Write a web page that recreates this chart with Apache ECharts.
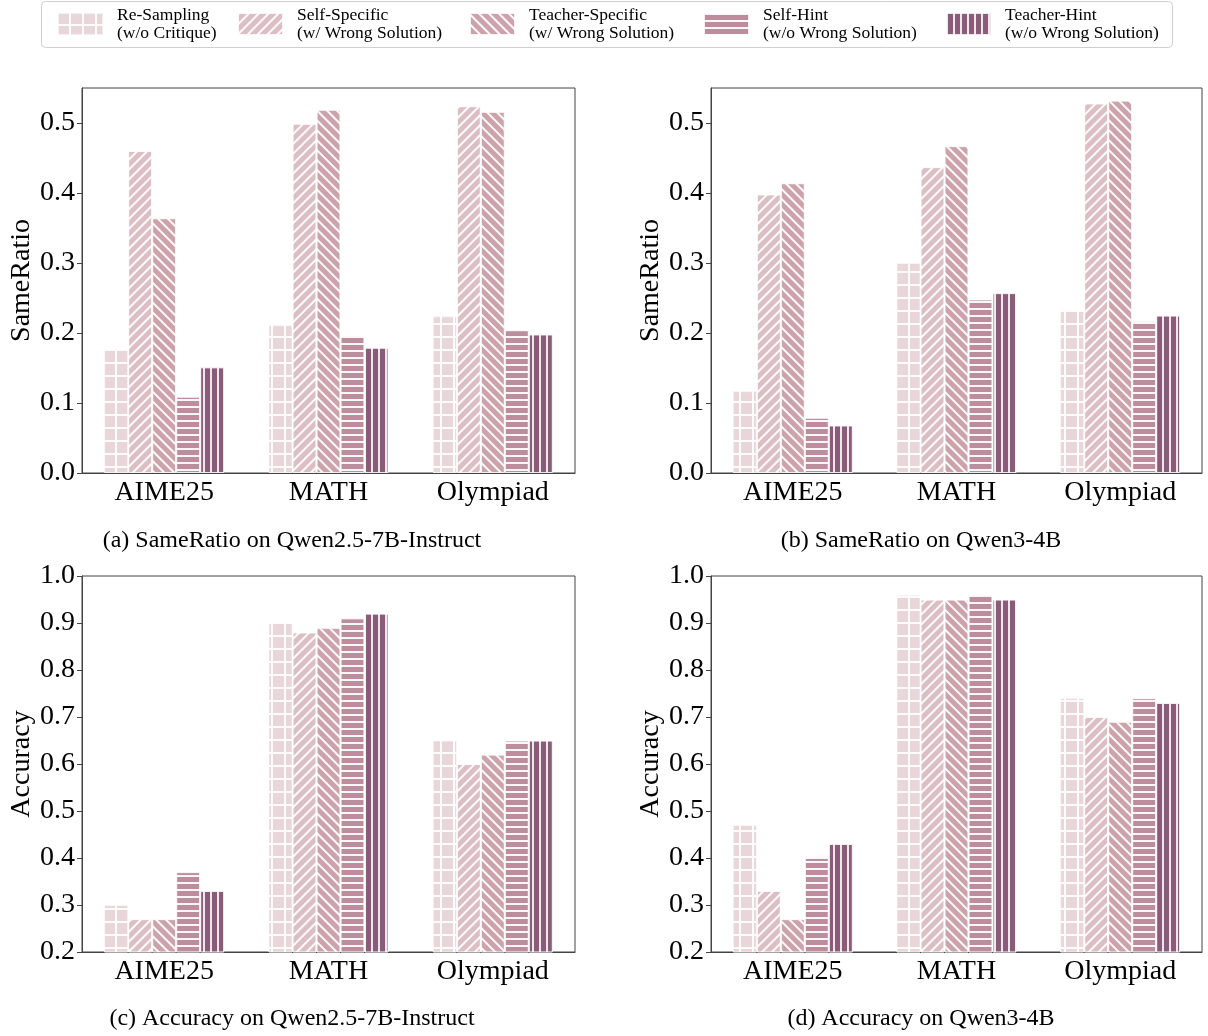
<!DOCTYPE html>
<html>
<head>
<meta charset="utf-8">
<script src="https://cdn.jsdelivr.net/npm/echarts@6/dist/echarts.min.js"></script>
<style>
html,body{margin:0;padding:0;background:#fff;}
#chart{width:1208px;height:1036px;}
</style>
</head>
<body>
<div id="chart"></div>
<script>
// ---------- data ----------
const categories = ['AIME25', 'MATH', 'Olympiad'];
const methodNames = [
  'Re-Sampling\n(w/o Critique)',
  'Self-Specific\n(w/ Wrong Solution)',
  'Teacher-Specific\n(w/ Wrong Solution)',
  'Self-Hint\n(w/o Wrong Solution)',
  'Teacher-Hint\n(w/o Wrong Solution)'
];
// order: Re-Sampling, Self-Specific, Teacher-Specific, Self-Hint, Teacher-Hint
const sameRatioQwen25 = [
  [0.177, 0.211, 0.224],
  [0.460, 0.499, 0.524],
  [0.364, 0.519, 0.516],
  [0.109, 0.196, 0.204],
  [0.151, 0.179, 0.198]
];
const sameRatioQwen3 = [
  [0.117, 0.300, 0.233],
  [0.398, 0.437, 0.528],
  [0.414, 0.467, 0.532],
  [0.079, 0.248, 0.217],
  [0.068, 0.257, 0.225]
];
const accuracyQwen25 = [
  [0.30, 0.90, 0.65],
  [0.27, 0.88, 0.60],
  [0.27, 0.89, 0.62],
  [0.37, 0.91, 0.65],
  [0.33, 0.92, 0.65]
];
const accuracyQwen3 = [
  [0.47, 0.96, 0.74],
  [0.33, 0.95, 0.70],
  [0.27, 0.95, 0.69],
  [0.40, 0.96, 0.74],
  [0.43, 0.95, 0.73]
];
const sameRatioTicks = [0.0, 0.1, 0.2, 0.3, 0.4, 0.5];
const accuracyTicks = [0.2, 0.3, 0.4, 0.5, 0.6, 0.7, 0.8, 0.9, 1.0];
const captions = [
  '(a) SameRatio on Qwen2.5-7B-Instruct',
  '(b) SameRatio on Qwen3-4B',
  '(c) Accuracy on Qwen2.5-7B-Instruct',
  '(d) Accuracy on Qwen3-4B'
];

// ---------- styles ----------
const FONT = 'Liberation Serif';
const colors = ['#e9d6db', '#dcbfc5', '#cca3ab', '#bc8e9d', '#8b5b7a'];
const decals = [
  { symbol: 'rect', symbolSize: 1, dashArrayX: [10.5, 1.5], dashArrayY: [10.5, 1.5], color: colors[0], backgroundColor: 'rgba(255,255,255,0.9)' },
  { symbol: 'rect', symbolSize: 1, dashArrayX: [1, 0], dashArrayY: [1.1, 4.2], rotation: -Math.PI / 4, color: 'rgba(255,255,255,0.92)' },
  { symbol: 'rect', symbolSize: 1, dashArrayX: [1, 0], dashArrayY: [1.1, 4.2], rotation: Math.PI / 4, color: 'rgba(255,255,255,0.92)' },
  { symbol: 'rect', symbolSize: 1, dashArrayX: [1, 0], dashArrayY: [1.3, 4.7], color: 'rgba(255,255,255,0.92)' },
  { symbol: 'rect', symbolSize: 1, dashArrayX: [1.3, 4.7], dashArrayY: [1, 0], color: 'rgba(255,255,255,0.85)' }
];

const grids = [
  { left: 82, top: 88, width: 493, height: 385 },
  { left: 711, top: 88, width: 491, height: 385 },
  { left: 82, top: 576, width: 493, height: 376 },
  { left: 711, top: 576, width: 491, height: 376 }
];
const panelData = [sameRatioQwen25, sameRatioQwen3, accuracyQwen25, accuracyQwen3];
const axisColor = '#444';

const option = {
  animation: false,
  backgroundColor: '#fff',
  grid: grids.map(g => Object.assign({ show: true, borderColor: axisColor, borderWidth: 1, backgroundColor: 'transparent', containLabel: false }, g)),
  xAxis: grids.map((g, i) => ({
    type: 'category',
    gridIndex: i,
    data: categories,
    axisLine: { lineStyle: { color: axisColor, width: 1 } },
    axisTick: { alignWithLabel: true, length: 5, lineStyle: { color: axisColor } },
    axisLabel: { color: '#000', fontFamily: FONT, fontSize: 28, margin: 6 }
  })),
  yAxis: grids.map((g, i) => {
    const isRatio = i < 2;
    const ticks = isRatio ? sameRatioTicks : accuracyTicks;
    return {
      type: 'value',
      gridIndex: i,
      min: isRatio ? 0 : 0.2,
      max: isRatio ? 0.55 : 1.0,
      interval: 0.1,
      name: isRatio ? 'SameRatio' : 'Accuracy',
      nameLocation: 'middle',
      nameGap: 46,
      nameTextStyle: { color: '#000', fontFamily: FONT, fontSize: 28 },
      splitLine: { show: false },
      axisLine: { show: true, lineStyle: { color: axisColor, width: 1 } },
      axisTick: { show: true, length: 5, lineStyle: { color: axisColor }, customValues: ticks },
      axisLabel: {
        color: '#000', fontFamily: FONT, fontSize: 28, margin: 7,
        customValues: ticks,
        formatter: v => Number(v).toFixed(1)
      }
    };
  }),
  legend: methodNames.map((name, k) => ({
    data: [name],
    left: [57, 237, 469, 703, 945][k],
    top: 6,
    padding: 0,
    itemWidth: 45,
    itemHeight: 22,
    icon: 'rect',
    selectedMode: false,
    textStyle: { color: '#000', fontFamily: FONT, fontSize: 17.5, lineHeight: 18, padding: [0, 0, 0, 9] }
  })),
  graphic: [
    { type: 'rect', left: 41, top: 1, z: -1, shape: { width: 1131, height: 46, r: 4 }, style: { fill: '#fff', stroke: '#cfcfcf', lineWidth: 1 } }
  ].concat(captions.map((c, i) => ({
    type: 'text',
    x: [292, 921, 292, 921][i],
    y: [541, 541, 1019, 1019][i],
    style: { text: c, fill: '#000', font: '24px "Liberation Serif"', textAlign: 'center', textVerticalAlign: 'middle' }
  }))),
  series: []
};

panelData.forEach((panel, p) => {
  panel.forEach((vals, k) => {
    option.series.push({
      type: 'bar',
      name: methodNames[k],
      xAxisIndex: p,
      yAxisIndex: p,
      data: vals,
      barWidth: 24,
      barGap: '0%',
      itemStyle: {
        color: colors[k],
        borderColor: 'rgba(255,255,255,0.6)',
        borderWidth: 1,
        decal: decals[k]
      }
    });
  });
});

const chart = echarts.init(document.getElementById('chart'), null, { renderer: 'canvas' });
chart.setOption(option);
</script>
</body>
</html>
